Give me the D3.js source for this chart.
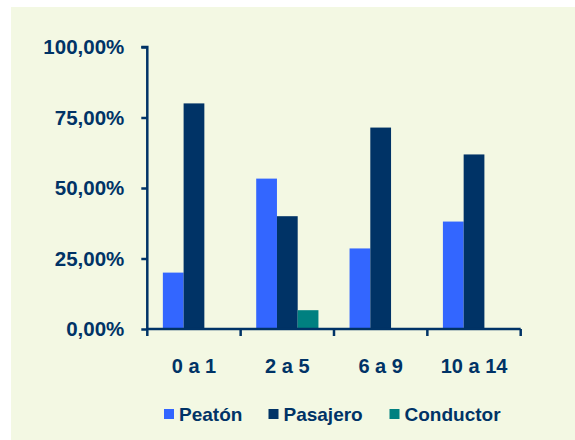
<!DOCTYPE html>
<html>
<head>
<meta charset="utf-8">
<script src="https://cdn.jsdelivr.net/npm/d3@7"></script>
<style>
  html, body { margin: 0; padding: 0; background: #ffffff; }
  svg { display: block; }
  text { font-family: "Liberation Sans", Arial, sans-serif; font-weight: bold; fill: #003366; }
</style>
</head>
<body>
<script>
const categories = ["0 a 1", "2 a 5", "6 a 9", "10 a 14"];
const seriesNames = ["Peatón", "Pasajero", "Conductor"];
const peaton    = [0.20, 0.5333, 0.2857, 0.381];
const pasajero  = [0.80, 0.40,   0.7143, 0.619];
const conductor = [0,    0.0667, 0,      0];
const yTicks = [0, 0.25, 0.5, 0.75, 1];
const colors = ["#3366FF", "#003366", "#008080"];

const W = 575, H = 440;
const svg = d3.select("body").append("svg").attr("width", W).attr("height", H);

svg.append("rect").attr("x", 11).attr("y", 7).attr("width", W - 11).attr("height", H - 7)
  .attr("fill", "#F3F8E3");

const x0 = d3.scaleBand().domain(categories).range([147.3, 520.7]).padding(0);
const x1 = d3.scaleBand().domain(seriesNames).range([0, x0.bandwidth()]).paddingInner(0).paddingOuter(0.75);
const y = d3.scaleLinear().domain([0, 1]).range([329, 47]);

const seriesData = [peaton, pasajero, conductor];

const groups = svg.append("g");
seriesNames.forEach((s, si) => {
  groups.selectAll(null)
    .data(categories.map((c, i) => ({c, v: seriesData[si][i]})).filter(d => d.v > 0))
    .enter().append("rect")
    .attr("x", d => x0(d.c) + x1(s))
    .attr("width", x1.bandwidth())
    .attr("y", d => y(d.v))
    .attr("height", d => y(0) - y(d.v))
    .attr("fill", colors[si]);
});

const fmt = v => d3.format(".2f")(v * 100).replace(".", ",") + "%";

// Y axis
const yAxis = svg.append("g").attr("transform", "translate(147.3,0)")
  .call(d3.axisLeft(y).tickValues(yTicks).tickFormat(fmt).tickSize(6).tickPadding(17));
yAxis.select(".domain").attr("stroke", "#003366").attr("stroke-width", 2.5)
  .attr("d", `M-6,${y(1)}H0V${y(0)}`);
yAxis.selectAll(".tick line").attr("stroke", "#003366").attr("stroke-width", 2.5);
yAxis.selectAll(".tick text").attr("fill", "#003366").style("font-size", "20.5px")
  .style("font-family", "'Liberation Sans', Arial, sans-serif").style("font-weight", "bold");

// X axis
const xEdges = [147.3].concat(categories.map(c => x0(c) + x0.bandwidth()));
const xAxisG = svg.append("g").attr("transform", `translate(0,${y(0)})`);
xAxisG.append("line").attr("x1", 147.3).attr("x2", 520.7).attr("y1", 0).attr("y2", 0)
  .attr("stroke", "#003366").attr("stroke-width", 2.5);
xAxisG.selectAll(".xt").data(xEdges).enter().append("line")
  .attr("x1", d => d).attr("x2", d => d).attr("y1", 0).attr("y2", 7)
  .attr("stroke", "#003366").attr("stroke-width", 2.5);
xAxisG.selectAll(".xl").data(categories).enter().append("text")
  .attr("x", d => x0(d) + x0.bandwidth() / 2)
  .attr("y", 44)
  .attr("text-anchor", "middle")
  .style("font-size", "20px")
  .text(d => d);

// Legend
const legendX = [164, 268.5, 389.5];
const leg = svg.append("g");
seriesNames.forEach((s, i) => {
  leg.append("rect").attr("x", legendX[i]).attr("y", 409).attr("width", 10).attr("height", 10)
    .attr("fill", colors[i]);
  leg.append("text").attr("x", legendX[i] + 15).attr("y", 421).style("font-size", "19px").text(s);
});
</script>
</body>
</html>
